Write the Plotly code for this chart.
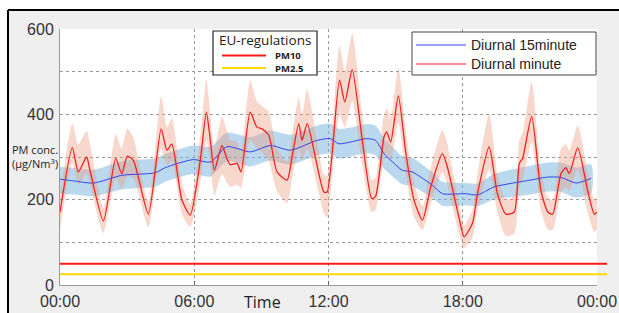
import plotly.graph_objects as go

# ---- data (hours of day, PM concentration µg/Nm3) ----
minute_t = [0.00, 0.55, 0.82, 1.19, 1.34, 1.94, 2.49, 2.76, 3.01, 3.28, 3.95, 4.52, 4.78, 5.00, 5.45, 5.82,
            6.27, 6.54, 6.72, 6.90, 7.24, 7.46, 7.61, 7.91, 8.09, 8.50, 8.80, 9.03, 9.33, 9.70, 10.15, 10.37,
            10.67, 10.82, 11.05, 11.79, 11.94, 12.49, 12.73, 13.06, 13.51, 13.93, 14.10, 14.48, 14.60, 14.78,
            15.12, 15.46, 15.82, 16.20, 16.57, 17.09, 17.31, 17.84, 18.06, 18.43, 18.66, 19.18, 19.55, 19.93,
            20.30, 20.53, 20.67, 21.08, 21.49, 21.80, 22.02, 22.39, 22.61, 22.76, 23.14, 23.58, 23.88, 24.00]
minute_v = [171, 322, 265, 300, 269, 150, 296, 261, 302, 292, 166, 366, 316, 330, 199, 164,
            292, 405, 339, 269, 327, 296, 282, 285, 265, 405, 370, 366, 351, 265, 246, 300,
            378, 339, 378, 218, 218, 480, 429, 505, 339, 203, 207, 347, 359, 335,
            443, 308, 199, 152, 230, 308, 277, 156, 113, 144, 214, 324, 214, 166,
            171, 285, 296, 395, 222, 171, 166, 261, 275, 261, 322, 222, 166, 171]
minute_hi = [205, 378, 330, 361, 330, 180, 353, 320, 366, 345, 195, 442, 370, 390, 240, 190,
             350, 483, 400, 320, 395, 360, 340, 335, 310, 480, 430, 420, 405, 320, 290, 350,
             440, 400, 458, 260, 255, 561, 500, 590, 400, 246, 250, 400, 414, 390,
             511, 360, 240, 185, 275, 363, 330, 190, 140, 175, 260, 402, 260, 200,
             210, 340, 355, 476, 270, 205, 200, 320, 330, 315, 374, 265, 200, 205]
minute_lo = [130, 285, 235, 262, 235, 122, 250, 225, 255, 250, 136, 320, 280, 290, 165, 136,
             240, 340, 280, 210, 260, 240, 230, 235, 227, 340, 320, 310, 290, 220, 192, 250,
             320, 290, 320, 170, 157, 400, 370, 430, 280, 171, 175, 300, 310, 290,
             380, 260, 160, 129, 190, 265, 235, 120, 87, 110, 175, 270, 170, 115,
             120, 230, 245, 335, 175, 130, 129, 215, 230, 220, 270, 170, 124, 130]

q15_t = [0.00, 0.60, 1.50, 2.76, 4.25, 4.70, 5.96, 6.72, 7.46, 8.51, 9.40, 10.30, 11.49, 12.09, 12.46, 13.06,
         13.66, 14.10, 14.48, 14.85, 15.30, 15.75, 16.20, 16.64, 17.09, 17.54, 18.13, 18.66, 19.40, 20.15,
         21.04, 21.80, 22.40, 23.06, 23.73]
q15_v = [248, 244, 239, 257, 263, 275, 294, 288, 324, 312, 327, 316, 339, 343, 331, 336,
         343, 339, 308, 289, 269, 265, 250, 234, 214, 213, 214, 211, 230, 238,
         246, 253, 252, 239, 250]
q15_hi = [277, 274, 270, 290, 297, 307, 327, 324, 357, 347, 362, 352, 374, 378, 366, 370,
          377, 374, 344, 324, 302, 298, 282, 264, 242, 240, 239, 238, 260, 270,
          280, 287, 287, 275, 283]
q15_lo = [213, 212, 208, 224, 230, 242, 260, 254, 290, 278, 292, 282, 304, 308, 296, 302,
          308, 304, 273, 255, 236, 232, 218, 204, 186, 185, 187, 185, 201, 206,
          212, 219, 218, 205, 215]

series_names = ["Diurnal 15minute", "Diurnal minute"]
series_colors = ["#3344ee", "#ee2222"]

eu_title = "EU-regulations"
eu_names = ["PM10", "PM2.5"]
eu_limits = [50, 25]
eu_colors = ["#ff1a1a", "#ffd700"]

x_ticks = [0, 6, 12, 18, 24]
x_labels = ["00:00", "06:00", "12:00", "18:00", "00:00"]
y_ticks = [0, 100, 200, 300, 400, 500, 600]
y_labels = ["0", "", "200", "", "400", "", "600"]

# pixel helpers (plot area: x 60..597, y 29..285)
def px(x):
    return (x - 60) / 537

def py(y):
    return (285 - y) / 256

fig = go.Figure()

# bands
fig.add_trace(go.Scatter(x=q15_t + q15_t[::-1], y=q15_hi + q15_lo[::-1], fill="toself",
                         fillcolor="rgba(120,180,222,0.5)",
                         line=dict(width=0, shape="spline", smoothing=0.7),
                         mode="lines", showlegend=False, hoverinfo="skip"))
fig.add_trace(go.Scatter(x=minute_t + minute_t[::-1], y=minute_hi + minute_lo[::-1], fill="toself",
                         fillcolor="rgba(236,150,120,0.38)",
                         line=dict(width=0, shape="spline", smoothing=0.6),
                         mode="lines", showlegend=False, hoverinfo="skip"))
# lines
fig.add_trace(go.Scatter(x=q15_t, y=q15_v, mode="lines", name=series_names[0], showlegend=False,
                         line=dict(color=series_colors[0], width=1, shape="spline", smoothing=0.7)))
fig.add_trace(go.Scatter(x=minute_t, y=minute_v, mode="lines", name=series_names[1], showlegend=False,
                         line=dict(color=series_colors[1], width=1.3, shape="spline", smoothing=0.6)))

shapes = []
annotations = []
# EU regulation lines (y in data units)
for lim, col in zip(eu_limits, eu_colors):
    shapes.append(dict(type="line", xref="paper", yref="y", x0=0, x1=px(607), y0=lim, y1=lim,
                       line=dict(color=col, width=2), layer="above"))

# legend 1 (EU-regulations)
shapes.append(dict(type="rect", xref="paper", yref="paper", x0=px(213), x1=px(317), y0=py(75), y1=py(31),
                   fillcolor="white", line=dict(color="#222", width=1.2), layer="above"))
annotations.append(dict(text=eu_title, xref="paper", yref="paper", x=px(265), y=py(40),
                        xanchor="center", yanchor="middle", showarrow=False, borderpad=0,
                        font=dict(family="Open Sans", size=13.5, color="#222")))
for i, (nm, col) in enumerate(zip(eu_names, eu_colors)):
    yy = 55.5 + i * 12.5
    shapes.append(dict(type="line", xref="paper", yref="paper", x0=px(222), x1=px(266), y0=py(yy), y1=py(yy),
                       line=dict(color=col, width=2), layer="above"))
    annotations.append(dict(text="<b>" + nm + "</b>", xref="paper", yref="paper", x=px(274), y=py(yy),
                            xanchor="left", yanchor="middle", showarrow=False, borderpad=0,
                            font=dict(family="Open Sans", size=9.5, color="#222")))

# legend 2 (series)
shapes.append(dict(type="rect", xref="paper", yref="paper", x0=px(412), x1=px(596), y0=py(75), y1=py(32),
                   fillcolor="white", line=dict(color="#444", width=1), layer="above"))
for i, (nm, col) in enumerate(zip(series_names, series_colors)):
    yy = 45 + i * 19
    shapes.append(dict(type="line", xref="paper", yref="paper", x0=px(416), x1=px(466), y0=py(yy), y1=py(yy),
                       line=dict(color=col, width=1.2), layer="above"))
    annotations.append(dict(text=nm, xref="paper", yref="paper", x=px(469), y=py(yy),
                            xanchor="left", yanchor="middle", showarrow=False,
                            font=dict(family="Liberation Sans", size=14, color="#222")))

# frame
fx = px(8)
fy = py(10)
shapes += [
    dict(type="rect", xref="paper", yref="paper", x0=-0.2, x1=fx, y0=-0.3, y1=1.3,
         fillcolor="white", line=dict(width=0), layer="above"),
    dict(type="rect", xref="paper", yref="paper", x0=-0.2, x1=1.2, y0=fy, y1=1.3,
         fillcolor="white", line=dict(width=0), layer="above"),
    dict(type="line", xref="paper", yref="paper", x0=fx, x1=1.2, y0=fy, y1=fy,
         line=dict(color="black", width=2), layer="above"),
    dict(type="line", xref="paper", yref="paper", x0=fx, x1=fx, y0=fy, y1=-0.3,
         line=dict(color="black", width=2), layer="above"),
]

annotations += [
    dict(text="Time", xref="paper", yref="paper", x=px(262), y=py(302),
         xanchor="center", yanchor="middle", showarrow=False,
         font=dict(family="Open Sans", size=16, color="#222")),
    dict(text="PM conc.<br>(µg/Nm<sup>3</sup>)", xref="paper", yref="paper",
         x=px(10), y=py(156), xanchor="left", yanchor="middle",
         align="left", showarrow=False,
         font=dict(family="Open Sans", size=11, color="#222")),
]

fig.update_layout(
    width=619, height=313,
    margin=dict(l=60, r=22, t=29, b=28),
    paper_bgcolor="#efefef", plot_bgcolor="white",
    shapes=shapes, annotations=annotations, showlegend=False,
    font=dict(family="Liberation Sans, Arial", color="#333"),
)
fig.update_xaxes(range=[0, 24], tickvals=x_ticks, ticktext=x_labels, showgrid=True,
                 gridcolor="#999", griddash="dot", gridwidth=1, zeroline=False,
                 showline=True, linecolor="#999", ticks="inside", ticklen=4, tickcolor="#666",
                 tickfont=dict(size=16, color="#333"), ticklabelstandoff=2, automargin=False)
fig.update_yaxes(range=[0, 600], tickvals=y_ticks, ticktext=y_labels, showgrid=True,
                 gridcolor="#999", griddash="dot", gridwidth=1, zeroline=False,
                 showline=True, linecolor="#999", ticks="",
                 tickfont=dict(size=16, color="#333"), ticklabelstandoff=2, automargin=False)

fig.write_html("out.html", config={"displayModeBar": False},
               post_script="document.body.style.margin='0';document.body.style.overflow='hidden';")
